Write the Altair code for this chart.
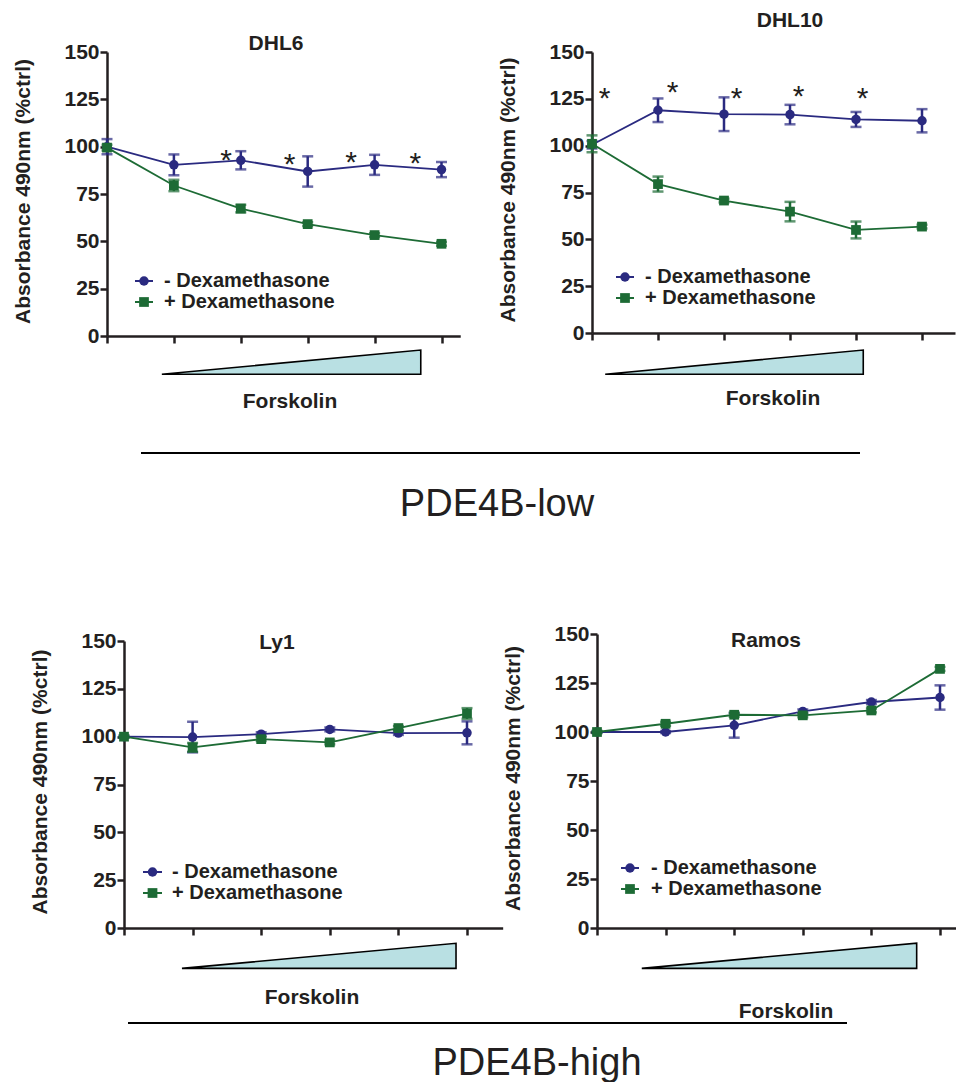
import altair as alt

# ---------------- data ----------------
doses = [0, 1, 2, 3, 4, 5]
series_names = ["- Dexamethasone", "+ Dexamethasone"]
panel_names = ["DHL6", "DHL10", "Ly1", "Ramos"]
group_names = ["PDE4B-low", "PDE4B-high"]
x_label = "Forskolin"
y_title = "Absorbance 490nm (%ctrl)"
y_ticks = [0, 25, 50, 75, 100, 125, 150]

dhl6_minus = [100.0, 90.4, 92.8, 86.9, 90.4, 87.9]
dhl6_minus_err = [4.0, 5.5, 4.8, 8.0, 5.3, 4.0]
dhl6_plus = [99.5, 79.5, 67.3, 59.1, 53.3, 48.7]
dhl6_plus_err = [1.5, 3.0, 2.0, 1.0, 1.0, 1.0]
dhl6_star_x = [1.78, 2.73, 3.65, 4.61]
dhl6_star_y = [96.7, 94.6, 95.5, 95.0]

dhl10_minus = [100.5, 118.9, 116.8, 116.6, 114.0, 113.3]
dhl10_minus_err = [2.0, 6.3, 9.0, 5.2, 4.0, 6.2]
dhl10_plus = [101.0, 79.5, 70.7, 64.8, 55.0, 56.8]
dhl10_plus_err = [4.5, 4.0, 1.0, 5.2, 4.5, 1.0]
dhl10_star_x = [0.19, 1.22, 2.19, 3.13, 4.10]
dhl10_star_y = [129.2, 132.3, 129.2, 130.5, 129.2]

ly1_minus = [100.0, 99.8, 101.3, 103.8, 101.9, 102.0]
ly1_minus_err = [0.5, 8.0, 1.0, 1.0, 1.0, 6.0]
ly1_plus = [100.0, 94.4, 98.7, 97.0, 104.5, 112.1]
ly1_plus_err = [0.5, 2.3, 1.0, 1.0, 1.0, 2.8]

ramos_minus = [100.0, 100.0, 103.4, 110.5, 115.3, 117.6]
ramos_minus_err = [0.5, 0.5, 6.3, 1.0, 1.0, 6.2]
ramos_plus = [100.0, 104.2, 108.8, 108.5, 111.0, 132.2]
ramos_plus_err = [0.5, 1.0, 1.0, 1.0, 1.0, 1.0]

# ---------------- layout / style ----------------
W, H = 948, 1074
OFF = 8
BLUE = "#2a2a80"
GREEN = "#1d6b35"
INK = "#231f20"
TRI_FILL = "#b9e0e3"
FONT = "Liberation Sans"
FS = 21
LEG_FS = 20

layout = {
    "DHL6": dict(ax=107, step=66.9, xmax=5.28, y0=336, y150=52,
                 title=(276, 44), forsk=(290, 402),
                 legend=(135, 153, 164, 281, 302), tri=(0.82, 4.69, -20.2, -7.4)),
    "DHL10": dict(ax=592, step=66.0, xmax=5.5, y0=333, y150=52,
                  title=(790, 21), forsk=(773, 399),
                  legend=(616, 634, 645, 277, 298), tri=(0.2, 4.11, -22.0, -9.1)),
    "Ly1": dict(ax=124, step=68.6, xmax=5.52, y0=928, y150=641,
                title=(277, 643), forsk=(312, 998),
                legend=(143, 162, 172, 872, 893), tri=(0.845, 4.84, -21.1, -8.0)),
    "Ramos": dict(ax=597, step=68.6, xmax=5.33, y0=928, y150=634,
                  title=(766, 641), forsk=(786, 1012),
                  legend=(621, 639, 651, 868, 889), tri=(0.653, 4.66, -20.6, -7.7)),
}


def panel(name, minus, minus_err, plus, plus_err, star_x=None, star_y=None):
    L = layout[name]
    xr = [L["ax"] - OFF, L["ax"] - OFF + L["xmax"] * L["step"]]
    yr = [L["y0"] - OFF, L["y150"] - OFF]
    xscale = alt.Scale(domain=[0, L["xmax"]], range=xr, nice=False, zero=False)
    yscale = alt.Scale(domain=[0, 150], range=yr, nice=False, zero=False)
    xaxis = alt.Axis(orient="bottom", offset=yr[0] - H, values=doses, labels=False,
                     title=None, grid=False, domainColor=INK, domainWidth=2.5,
                     tickColor=INK, tickWidth=2.5, tickSize=7)
    yaxis = alt.Axis(orient="left", offset=-xr[0], values=y_ticks, title=y_title,
                     grid=False, domainColor=INK, domainWidth=2.5, tickColor=INK,
                     tickWidth=2.5, tickSize=7, labelFont=FONT, labelFontSize=FS,
                     labelFontWeight="bold", labelColor=INK, labelPadding=1,
                     labelFlush=False, labelOverlap=False,
                     titleFont=FONT, titleFontSize=FS, titleFontWeight="bold",
                     titleColor=INK, titleAngle=270, titleAlign="center",
                     titleBaseline="middle", titleX=-84,
                     titleY=(yr[0] + yr[1]) / 2 - 3)

    def X(f):
        return alt.X(f, type="quantitative", scale=xscale, axis=xaxis)

    def Y(f):
        return alt.Y(f, type="quantitative", scale=yscale, axis=yaxis)

    layers = []
    # forskolin ramp triangle
    x_a, x_b, y_bot, y_top = L["tri"]
    tri = alt.Chart(alt.Data(values=[
        {"x": x_a, "top": y_bot, "bot": y_bot},
        {"x": x_b, "top": y_top, "bot": y_bot},
    ])).mark_area(fill=TRI_FILL, stroke="black", strokeWidth=1.6, opacity=1).encode(
        x=X("x"), y=Y("top"), y2=alt.Y2("bot"))
    layers.append(tri)

    for vals, errs, col, shape, size, sname in [
        (minus, minus_err, BLUE, "circle", 90, series_names[0]),
        (plus, plus_err, GREEN, "square", 95, series_names[1]),
    ]:
        rows = [{"dose": d, "v": v, "lo": v - e, "hi": v + e, "s": sname}
                for d, v, e in zip(doses, vals, errs)]
        base = alt.Chart(alt.Data(values=rows))
        layers.append(base.mark_rule(color=col, strokeWidth=2.5).encode(
            x=X("dose"), y=Y("lo"), y2=alt.Y2("hi")))
        layers.append(base.mark_tick(color=col, orient="horizontal", size=11, thickness=2.5).encode(
            x=X("dose"), y=Y("lo")))
        layers.append(base.mark_tick(color=col, orient="horizontal", size=11, thickness=2.5).encode(
            x=X("dose"), y=Y("hi")))
        layers.append(base.mark_line(color=col, strokeWidth=1.8).encode(
            x=X("dose"), y=Y("v")))
        layers.append(base.mark_point(color=col, shape=shape, filled=True, size=size, opacity=1).encode(
            x=X("dose"), y=Y("v")))

    if star_x:
        srows = [{"x": a, "y": b, "t": "*"} for a, b in zip(star_x, star_y)]
        layers.append(alt.Chart(alt.Data(values=srows)).mark_text(
            font=FONT, fontSize=30, color=INK, dy=17, baseline="alphabetic").encode(
            x=X("x"), y=Y("y"), text="t:N"))

    return alt.layer(*layers)


def text_layer(label, x, y, size=FS, weight="bold", align="center", baseline="middle"):
    return alt.Chart(alt.Data(values=[{"t": label}])).mark_text(
        font=FONT, fontSize=size, fontWeight=weight, color=INK, align=align,
        baseline=baseline).encode(x=alt.value(x - OFF), y=alt.value(y - OFF), text="t:N")


def legend_layers(name):
    lx1, lx2, tx, r1, r2 = layout[name]["legend"]
    out = []
    for (row_y, col, shape, size, label) in [
        (r1, BLUE, "circle", 90, series_names[0]),
        (r2, GREEN, "square", 95, series_names[1]),
    ]:
        d = alt.Data(values=[{"t": label}])
        out.append(alt.Chart(d).mark_rule(color=col, strokeWidth=2).encode(
            x=alt.value(lx1 - OFF), x2=alt.value(lx2 - OFF), y=alt.value(row_y - OFF)))
        out.append(alt.Chart(d).mark_point(color=col, shape=shape, filled=True, size=size, opacity=1).encode(
            x=alt.value((lx1 + lx2) / 2 - OFF), y=alt.value(row_y - OFF)))
        out.append(text_layer(label, tx, row_y, size=LEG_FS, align="left"))
    return out


panels = [
    panel("DHL6", dhl6_minus, dhl6_minus_err, dhl6_plus, dhl6_plus_err, dhl6_star_x, dhl6_star_y),
    panel("DHL10", dhl10_minus, dhl10_minus_err, dhl10_plus, dhl10_plus_err, dhl10_star_x, dhl10_star_y),
    panel("Ly1", ly1_minus, ly1_minus_err, ly1_plus, ly1_plus_err),
    panel("Ramos", ramos_minus, ramos_minus_err, ramos_plus, ramos_plus_err),
]

decor = []
for nm in panel_names:
    tx, ty = layout[nm]["title"]
    decor.append(text_layer(nm, tx, ty))
    fx, fy = layout[nm]["forsk"]
    decor.append(text_layer(x_label, fx, fy))
    decor.extend(legend_layers(nm))

decor.append(alt.Chart(alt.Data(values=[{"g": group_names[0]}])).mark_rule(color="black", strokeWidth=2).encode(
    x=alt.value(141 - OFF), x2=alt.value(860 - OFF), y=alt.value(453 - OFF)))
decor.append(alt.Chart(alt.Data(values=[{"g": group_names[1]}])).mark_rule(color="black", strokeWidth=2).encode(
    x=alt.value(128 - OFF), x2=alt.value(847 - OFF), y=alt.value(1023 - OFF)))
decor.append(text_layer(group_names[0], 497, 505, size=38, weight="normal"))
decor.append(text_layer(group_names[1], 537, 1064, size=38, weight="normal"))

chart = alt.layer(*panels, *decor).resolve_scale(
    x="independent", y="independent"
).properties(
    width=W, height=H, autosize=alt.AutoSizeParams(type="none"), padding=0,
    background="white"
).configure_view(stroke=None)

chart.save("out.html", embed_options={"renderer": "svg", "actions": False})
